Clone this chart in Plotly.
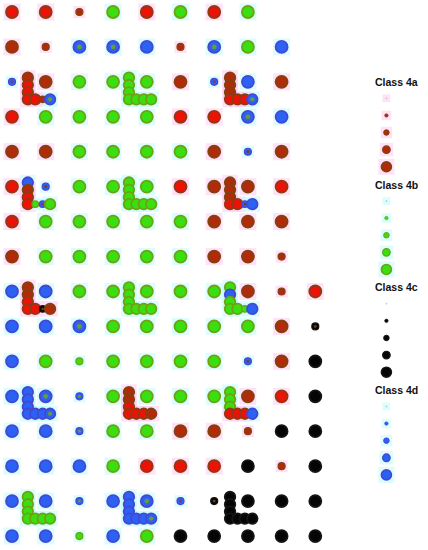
import plotly.graph_objects as go

# ---------------- data ----------------
# grid of cells: one code per column (10 columns), 16 rows
# upper-case = large dot, lower-case first letter = small dot
# R red, Br brown-red, G green, B blue, K black; trailing letter = centre colour
grid_rows = [
    ["R", "R", "br", "G", "R", "G", "R", "G", "", ""],
    ["Br", "br", "BG", "BG", "B", "br", "BG", "G", "B", ""],
    ["bR", "Br", "G", "G", "G", "Br", "bR", "B", "Br", ""],
    ["R", "G", "G", "G", "G", "R", "R", "BG", "B", ""],
    ["Br", "Br", "G", "G", "G", "G", "Br", "bB", "Br", ""],
    ["R", "bB", "G", "G", "G", "R", "Br", "Br", "R", ""],
    ["R", "G", "G", "G", "G", "G", "Br", "Br", "Br", ""],
    ["Br", "G", "G", "G", "G", "G", "Br", "Br", "br", ""],
    ["B", "B", "G", "G", "G", "G", "G", "Br", "br", "R"],
    ["B", "B", "BG", "G", "G", "G", "G", "G", "Br", "kB"],
    ["B", "G", "g", "G", "G", "G", "G", "bB", "Br", "K"],
    ["B", "BG", "bG", "G", "G", "G", "G", "Br", "R", "K"],
    ["B", "B", "bG", "G", "G", "Br", "Br", "br", "K", "K"],
    ["B", "B", "B", "G", "R", "R", "R", "K", "br", "K"],
    ["B", "B", "bG", "B", "BG", "bR", "kB", "K", "K", "K"],
    ["B", "B", "g", "B", "G", "K", "K", "K", "K", "K"],
]

# L-shaped clusters: anchor row, anchor column, colour codes
# (4 vertical dots top->corner, then 3 horizontal dots)
L_row = [2, 2, 2, 5, 5, 5, 8, 8, 8, 11, 11, 11, 14, 14, 14]
L_col = [0, 3, 6, 0, 3, 6, 0, 3, 6, 0, 3, 6, 0, 3, 6]
L_codes = [
    ["Br", "R", "R", "R", "R", "br", "BG"],
    ["G", "G", "G", "G", "G", "G", "G"],
    ["Br", "Br", "Br", "R", "R", "R", "BG"],
    ["B", "Br", "R", "R", "g", "bR", "G"],
    ["G", "G", "G", "G", "G", "G", "G"],
    ["Br", "Br", "Br", "R", "R", "bB", "B"],
    ["Br", "Br", "R", "R", "R", "kB", "Br"],
    ["G", "G", "G", "G", "G", "G", "G"],
    ["G", "B", "G", "G", "G", "g", "B"],
    ["B", "B", "B", "B", "B", "B", "BG"],
    ["Br", "Br", "R", "R", "R", "R", "Br"],
    ["G", "G", "G", "R", "R", "R", "B"],
    ["G", "G", "G", "G", "G", "G", "G"],
    ["B", "B", "B", "B", "B", "B", "BG"],
    ["K", "K", "K", "K", "K", "K", "K"],
]
L_dx = [0.47, 0.47, 0.47, 0.47, 0.69, 0.91, 1.13]
L_dy = [-0.12, 0.09, 0.30, 0.50, 0.50, 0.50, 0.50]

legend_titles = ["Class 4a", "Class 4b", "Class 4c", "Class 4d"]
legend_codes = ["Br", "G", "K", "B"]
legend_levels = [1, 2, 3, 4, 5]

# ---------------- styles ----------------
FILL = {"R": "#ec1208", "Br": "#b22a0a", "G": "#38e012", "B": "#2a62f4", "K": "#050505"}
LINE = {"R": "#8c3c12", "Br": "#7e4410", "G": "#72a010", "B": "#4646d4", "K": "#151515"}
CENTER = {"G": "#6a9a30", "R": "#9a2a60", "B": "#7a3e14"}
HALO = {"R": "rgba(255,200,242,0.55)", "Br": "rgba(255,200,242,0.55)",
        "G": "rgba(190,252,252,0.55)", "B": "rgba(190,252,252,0.55)", "K": "rgba(0,0,0,0)"}


def parse(code):
    small = code[0].islower()
    base = code[0].upper()
    rest = code[1:]
    if base == "B" and rest.startswith("r"):
        base, rest = "Br", rest[1:]
    center = rest if rest else None
    return base, small, center


hx, hy, hc, hs = [], [], [], []
mx, my, mf, ml, ms, mw = [], [], [], [], [], []
cx, cy, cc, cs = [], [], [], []


def add(x, y, code, big=12, sm=7):
    base, small, center = parse(code)
    s = sm if small else big
    hx.append(x); hy.append(y); hc.append(HALO[base]); hs.append(s + 5)
    mx.append(x); my.append(y); mf.append(FILL[base]); ml.append(LINE[base])
    ms.append(s); mw.append(1.2 if small else 1.8)
    if center:
        cx.append(x); cy.append(y); cc.append(CENTER[center]); cs.append(s * 0.4)


for r, row in enumerate(grid_rows):
    for c, code in enumerate(row):
        if code:
            add(c, r, code)

for k in range(len(L_row)):
    for j in range(7):
        add(L_col[k] + L_dx[j], L_row[k] + L_dy[j], L_codes[k][j], big=10.5, sm=6.5)

fig = go.Figure()
fig.add_trace(go.Scatter(x=hx, y=hy, mode="markers", hoverinfo="skip",
                         marker=dict(symbol="square", size=hs, color=hc, opacity=1,
                                     line=dict(width=0))))
fig.add_trace(go.Scatter(x=mx, y=my, mode="markers",
                         marker=dict(size=ms, color=mf, opacity=1,
                                     line=dict(color=ml, width=mw))))
fig.add_trace(go.Scatter(x=cx, y=cy, mode="markers", hoverinfo="skip",
                         marker=dict(size=cs, color=cc, opacity=1, line=dict(width=0))))

# legend
leg_sizes = [1.8, 3.5, 5.5, 7.5, 10]
lx_dot, lx_title = 11.11, 11.40
for b, title in enumerate(legend_titles):
    y0 = 2.0 + 2.94 * b
    fig.add_annotation(x=lx_title, y=y0, text="<b>" + title + "</b>", showarrow=False,
                       xanchor="center", yanchor="middle",
                       font=dict(family="Liberation Sans, Arial", size=10.5, color="#111"))
    base = legend_codes[b]
    ys = [y0 + 0.47 + 0.49 * k for k in range(len(legend_levels))]
    fig.add_trace(go.Scatter(x=[lx_dot] * 5, y=ys, mode="markers", hoverinfo="skip",
                             marker=dict(symbol="square", size=[s + 6 for s in leg_sizes],
                                         color=HALO[base], opacity=1, line=dict(width=0))))
    cols = [("#c8c8c8" if lv == 1 else FILL[base]) for lv in legend_levels]
    fig.add_trace(go.Scatter(x=[lx_dot] * 5, y=ys, mode="markers",
                             marker=dict(size=leg_sizes, color=cols, opacity=1,
                                         line=dict(color=LINE[base], width=[0, 0.6, 1, 1.3, 1.6]))))

fig.update_layout(width=428, height=550, margin=dict(l=0, r=0, t=0, b=0),
                  paper_bgcolor="white", plot_bgcolor="white", showlegend=False)
fig.update_xaxes(range=[-0.356, 12.344], visible=False)
fig.update_yaxes(range=[15.40, -0.3435], visible=False)
fig.write_html("out.html", config={"displayModeBar": False},
               post_script="document.body.style.margin='0';")
